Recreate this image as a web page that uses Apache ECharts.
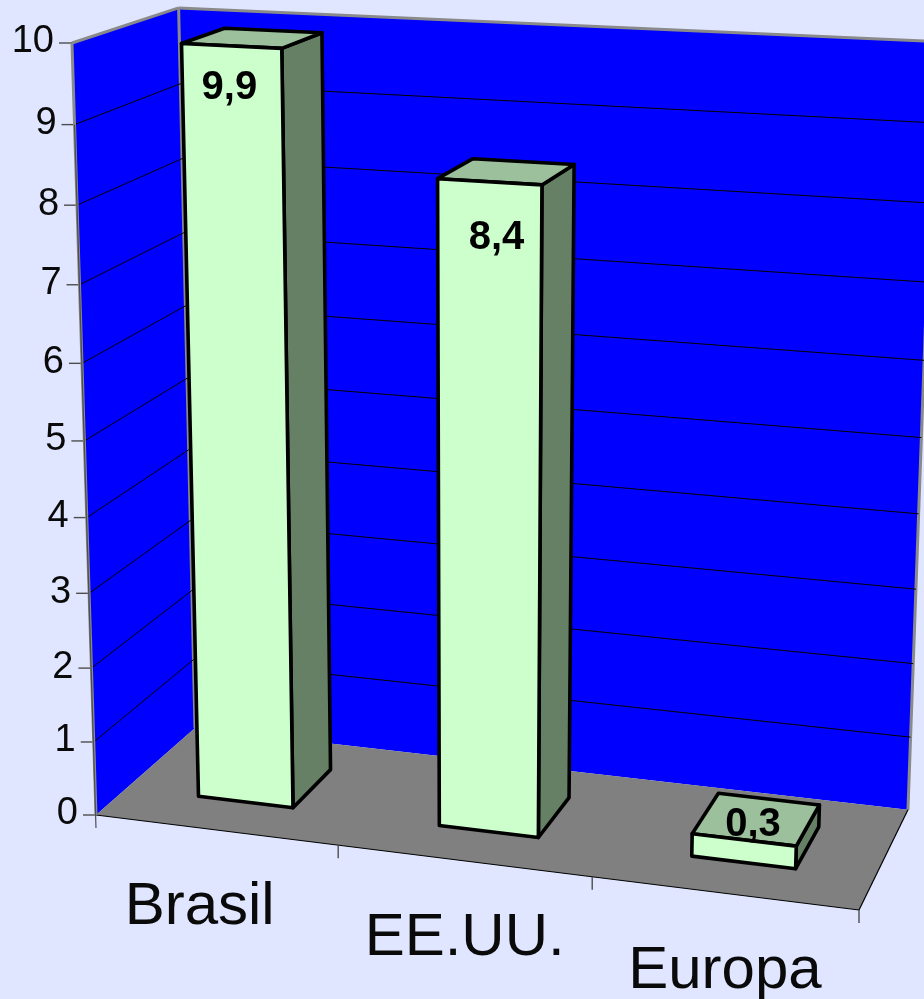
<!DOCTYPE html>
<html>
<head>
<meta charset="utf-8">
<style>html,body{margin:0;padding:0;background:#e0e6ff}#chart{width:924px;height:999px}</style>
<script src="https://cdn.jsdelivr.net/npm/echarts@6/dist/echarts.min.js"></script>
</head>
<body>
<div id="chart"></div>
<script>
// Chart data
const categories = ['Brasil', 'EE.UU.', 'Europa'];
const values = [9.9, 8.4, 0.3];
const valueLabels = ['9,9', '8,4', '0,3'];
const valueTicks = [0, 1, 2, 3, 4, 5, 6, 7, 8, 9, 10];

// Perspective box: floor origin, floor front-right, top front-left, floor back-left,
// and the homogeneous weight of each box axis.
const BOX = {
  O: [96, 815], A: [859, 910], B: [72, 43], C: [195, 728],
  wu: 0.93, wv: 0.94, ww: 1.075
};
// Bar footprint within its band and within the box depth.
const BAR = { start: 0.305, end: 0.703, front: 0.30, back: 0.725 };
// Pixel nudges for text relative to its projected anchor.
const DATA_LABEL_SHIFT = [[-2, 42], [7, 56], [9, -15]];
const CATEGORY_LABEL_SHIFT = [[-16, 78], [1, 78], [1, 78]];

const COLORS = {
  page: '#e0e6ff', wall: '#0000ff', floor: '#808080', edge: '#8a8a8a',
  front: '#ccffcc', top: '#9cc09c', side: '#668066', ink: '#000000',
  tick: '#4d4d4d', text: '#0a0a0a'
};
const SANS = '"Liberation Sans", Arial, sans-serif';

// Maps box coordinates (each 0..1) to screen pixels.
function project(u, v, w) {
  const { O, A, B, C, wu, wv, ww } = BOX;
  const d = 1 + u * (wu - 1) + v * (wv - 1) + w * (ww - 1);
  const axis = i => O[i] + u * (wu * A[i] - O[i]) + v * (wv * B[i] - O[i]) + w * (ww * C[i] - O[i]);
  return [axis(0) / d, axis(1) / d];
}

// Reads the scale positions from the hidden cartesian system as 0..1 fractions.
function fractions(params, api, catIndex, value) {
  const cs = params.coordSys;
  const p = api.coord([catIndex, value]);
  return {
    u: (p[0] - cs.x) / cs.width,
    v: (cs.y + cs.height - p[1]) / cs.height,
    band: api.size([1, 0])[0] / cs.width
  };
}

const poly = (points, fill, stroke, lineWidth) => ({
  type: 'polygon', shape: { points },
  style: { fill, stroke: stroke || 'none', lineWidth: lineWidth || 0, lineJoin: 'round' }
});
const line = (a, b, stroke, lineWidth) => ({
  type: 'line', shape: { x1: a[0], y1: a[1], x2: b[0], y2: b[1] },
  style: { stroke, lineWidth, lineCap: 'butt' }
});
const text = (x, y, str, font, align, fill) => ({
  type: 'text',
  style: { x, y, text: str, font, align, verticalAlign: 'middle', fill }
});

// Walls and floor of the box.
function renderShell() {
  return {
    type: 'group',
    children: [
      poly([project(0, 0, 0), project(0, 1, 0), project(0, 1, 1), project(0, 0, 1)], COLORS.wall),
      poly([project(0, 0, 1), project(0, 1, 1), project(1, 1, 1), project(1, 0, 1)], COLORS.wall),
      poly([project(0, 0, 0), project(0, 0, 1), project(1, 0, 1), project(1, 0, 0)], COLORS.floor),
      line(project(0, 1, 0), project(0, 1, 1), COLORS.edge, 3),
      line(project(0, 1, 1), project(1, 1, 1), COLORS.edge, 3),
      line(project(0, 1, 1), project(0, 0, 1), COLORS.edge, 3),
      line(project(1, 1, 1), project(1, 0, 1), COLORS.edge, 3),
      line(project(0, 0, 0), project(1, 0, 0), COLORS.ink, 1.2),
      line(project(1, 0, 0), project(1, 0, 1), COLORS.ink, 1.2)
    ]
  };
}

// One value tick: gridlines on both walls, tick mark and tick label.
function renderValueTick(params, api) {
  const tick = api.value(1);
  const { v } = fractions(params, api, 0, tick);
  const p = project(0, v, 0);
  const children = [];
  if (tick > 0 && tick < 10) {
    children.push(line(p, project(0, v, 1), COLORS.ink, 1));
    children.push(line(project(0, v, 1), project(1, v, 1), COLORS.ink, 1));
  }
  children.push(line([p[0] - 13, p[1]], p, COLORS.tick, 1.4));
  children.push(text(p[0] - 18, p[1] - 1, String(tick), '38px ' + SANS, 'right', COLORS.text));
  return { type: 'group', children };
}

// Left axis line, running just past the zero tick.
function renderValueAxis() {
  const base = project(0, 0, 0);
  return {
    type: 'group',
    children: [
      line(project(0, 1, 0), base, COLORS.edge, 3),
      line(project(0, 0.9, 0), [base[0], base[1] + 13], COLORS.tick, 1.2)
    ]
  };
}

// Category tick marks along the front floor edge, plus the category names.
function renderCategory(params, api) {
  const i = params.dataIndex;
  const { u, band } = fractions(params, api, i, 0);
  const endTick = project(u + band / 2, 0, 0);
  const anchor = project(u, 0, 0);
  const shift = CATEGORY_LABEL_SHIFT[i];
  return {
    type: 'group',
    children: [
      line(endTick, [endTick[0], endTick[1] + 13], COLORS.tick, 1.4),
      text(anchor[0] + shift[0], anchor[1] + shift[1], categories[i], '60px ' + SANS, 'center', COLORS.text)
    ]
  };
}

// A single 3D bar: side, top and front faces with its value label.
function renderBar(params, api) {
  const i = params.dataIndex;
  const { u, v, band } = fractions(params, api, i, api.value(1));
  const u0 = u - band / 2 + BAR.start * band;
  const u1 = u - band / 2 + BAR.end * band;
  const { front: w0, back: w1 } = BAR;
  const sw = 3.6;
  const labelAt = project((u0 + u1) / 2, v, w0);
  const shift = DATA_LABEL_SHIFT[i];
  return {
    type: 'group',
    children: [
      poly([project(u1, 0, w0), project(u1, v, w0), project(u1, v, w1), project(u1, 0, w1)], COLORS.side, COLORS.ink, sw),
      poly([project(u0, v, w0), project(u0, v, w1), project(u1, v, w1), project(u1, v, w0)], COLORS.top, COLORS.ink, sw),
      poly([project(u0, 0, w0), project(u0, v, w0), project(u1, v, w0), project(u1, 0, w0)], COLORS.front, COLORS.ink, sw),
      text(labelAt[0] + shift[0], labelAt[1] + shift[1], valueLabels[i], 'bold 40px ' + SANS, 'center', COLORS.ink)
    ]
  };
}

const chart = echarts.init(document.getElementById('chart'), null, { renderer: 'canvas' });
const customBase = { type: 'custom', coordinateSystem: 'cartesian2d', silent: true, animation: false, clip: false };

chart.setOption({
  backgroundColor: COLORS.page,
  animation: false,
  grid: { left: 0, right: 0, top: 0, bottom: 0 },
  xAxis: { type: 'category', data: categories, show: false },
  yAxis: { type: 'value', min: 0, max: 10, interval: 1, show: false },
  series: [
    { ...customBase, name: 'shell', z: 1, data: [[0, 0]], renderItem: renderShell },
    { ...customBase, name: 'valueTicks', z: 2, data: valueTicks.map(t => [0, t]), renderItem: renderValueTick },
    { ...customBase, name: 'valueAxis', z: 3, data: [[0, 0]], renderItem: renderValueAxis },
    { ...customBase, name: 'categories', z: 3, data: categories.map((c, i) => [i, 0]), renderItem: renderCategory },
    { ...customBase, name: 'bars', z: 4, data: values.map((val, i) => [i, val]), renderItem: renderBar }
  ]
});
</script>
</body>
</html>
